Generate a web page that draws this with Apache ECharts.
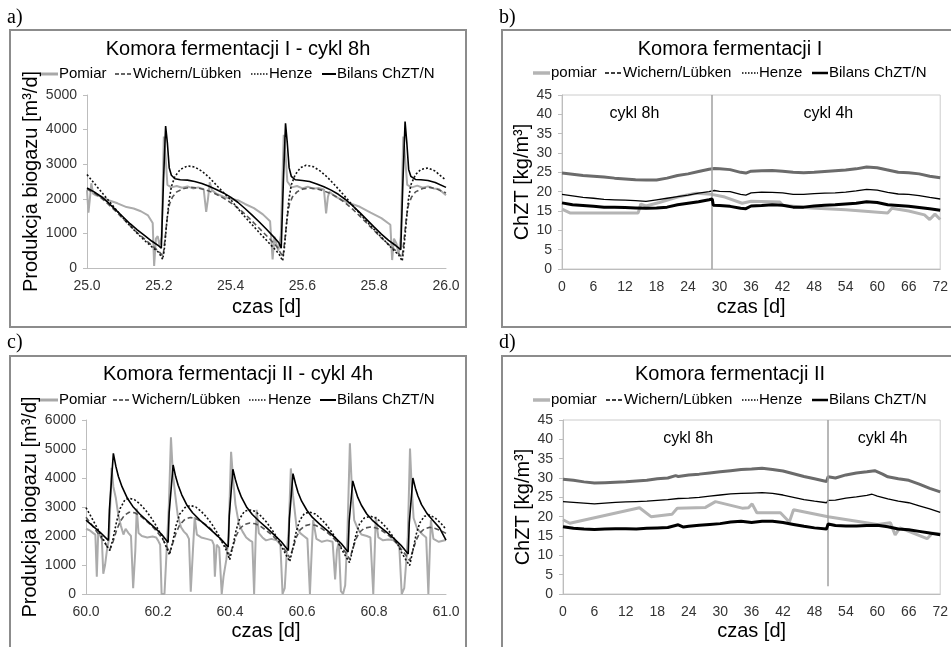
<!DOCTYPE html>
<html><head><meta charset="utf-8">
<script src="https://cdn.jsdelivr.net/npm/echarts/dist/echarts.min.js"></script>
<style>html,body{margin:0;padding:0;background:#fff}#c{width:951px;height:647px}</style>
</head><body><div id="c"></div><script>
// ---------- Panel a: Komora fermentacji I - cykl 8h ----------
const aPomiar = [[25.0,2250],[25.004,1600],[25.008,2000],[25.012,2450],[25.017,2150],[25.025,2100],[25.04,2060],[25.06,1960],[25.085,1870],[25.11,1760],[25.13,1720],[25.15,1640],[25.17,1520],[25.183,1300],[25.187,60],[25.192,850],[25.197,920],[25.202,650],[25.208,900],[25.214,3800],[25.219,3200],[25.224,2400],[25.235,2330],[25.25,2370],[25.265,2320],[25.28,2360],[25.295,2300],[25.31,2330],[25.325,2280],[25.332,1620],[25.337,2000],[25.342,2480],[25.348,2250],[25.36,2150],[25.38,2060],[25.40,2000],[25.42,1960],[25.44,1850],[25.465,1730],[25.49,1550],[25.51,1350],[25.517,250],[25.522,900],[25.527,850],[25.533,500],[25.54,950],[25.548,3850],[25.553,3300],[25.558,2500],[25.57,2330],[25.585,2370],[25.60,2300],[25.615,2350],[25.63,2290],[25.645,2310],[25.66,2270],[25.666,1580],[25.671,2050],[25.675,2200],[25.69,2080],[25.71,1960],[25.73,1880],[25.76,1770],[25.79,1600],[25.82,1440],[25.845,1250],[25.85,230],[25.855,850],[25.862,710],[25.868,400],[25.874,900],[25.881,3800],[25.886,3200],[25.892,2400],[25.905,2330],[25.92,2380],[25.935,2320],[25.95,2360],[25.965,2300],[25.98,2280],[26.0,2100]];
const aWichern = [[25.0,2280],[25.02,2170],[25.04,2020],[25.06,1840],[25.08,1640],[25.10,1430],[25.12,1220],[25.14,1020],[25.16,840],[25.18,660],[25.20,480],[25.212,340],[25.218,900],[25.224,1500],[25.23,1850],[25.238,2050],[25.25,2200],[25.27,2300],[25.29,2330],[25.31,2310],[25.33,2260],[25.35,2180],[25.37,2080],[25.39,1960],[25.41,1820],[25.43,1650],[25.45,1460],[25.47,1250],[25.49,1040],[25.51,830],[25.53,600],[25.546,320],[25.552,900],[25.558,1500],[25.564,1850],[25.572,2050],[25.585,2200],[25.60,2280],[25.62,2310],[25.64,2290],[25.66,2230],[25.68,2140],[25.70,2030],[25.72,1880],[25.74,1700],[25.76,1500],[25.78,1290],[25.80,1080],[25.82,870],[25.84,680],[25.86,500],[25.878,310],[25.884,900],[25.89,1500],[25.896,1850],[25.904,2050],[25.915,2200],[25.935,2300],[25.955,2330],[25.975,2280],[26.0,2170]];
const aHenze = [[25.0,2700],[25.02,2450],[25.04,2200],[25.06,1950],[25.08,1700],[25.10,1450],[25.12,1220],[25.14,1000],[25.16,800],[25.18,620],[25.20,450],[25.211,250],[25.216,600],[25.222,1300],[25.228,1900],[25.235,2350],[25.245,2650],[25.26,2850],[25.28,2950],[25.30,2920],[25.32,2800],[25.34,2620],[25.36,2400],[25.38,2180],[25.40,1980],[25.42,1720],[25.44,1480],[25.46,1250],[25.48,1020],[25.50,800],[25.52,580],[25.535,400],[25.545,210],[25.55,600],[25.556,1300],[25.562,1950],[25.569,2400],[25.58,2700],[25.595,2900],[25.61,2970],[25.63,2930],[25.65,2800],[25.67,2620],[25.69,2400],[25.71,2170],[25.73,1930],[25.75,1690],[25.77,1450],[25.79,1220],[25.81,1000],[25.83,780],[25.85,560],[25.868,380],[25.878,200],[25.883,600],[25.889,1300],[25.895,1950],[25.902,2400],[25.915,2700],[25.93,2850],[25.95,2890],[25.97,2800],[25.99,2620],[26.0,2540]];
const aBilans = [[25.0,2310],[25.02,2200],[25.04,2060],[25.06,1880],[25.08,1680],[25.10,1480],[25.12,1280],[25.14,1100],[25.16,940],[25.18,780],[25.20,640],[25.207,570],[25.213,2500],[25.219,4100],[25.224,3600],[25.229,2900],[25.235,2680],[25.245,2580],[25.26,2550],[25.28,2540],[25.30,2500],[25.32,2440],[25.34,2360],[25.36,2270],[25.38,2170],[25.40,2050],[25.42,1900],[25.44,1720],[25.46,1530],[25.48,1330],[25.50,1120],[25.52,900],[25.535,720],[25.541,570],[25.547,2500],[25.553,4180],[25.558,3600],[25.563,2900],[25.569,2650],[25.58,2550],[25.60,2530],[25.62,2500],[25.64,2430],[25.66,2350],[25.68,2250],[25.70,2130],[25.72,1980],[25.74,1800],[25.76,1600],[25.78,1390],[25.80,1180],[25.82,980],[25.84,800],[25.86,650],[25.874,530],[25.88,2500],[25.886,4230],[25.891,3600],[25.896,2850],[25.902,2650],[25.915,2560],[25.93,2550],[25.95,2530],[25.97,2470],[26.0,2330]];

// ---------- Panel c: Komora fermentacji II - cykl 4h ----------
const cPomiar = [[60.0,2250],[60.01,2200],[60.02,2100],[60.026,2050],[60.03,600],[60.034,2150],[60.04,2000],[60.044,1900],[60.048,700],[60.053,1000],[60.058,1500],[60.064,1900],[60.071,4350],[60.076,3700],[60.083,3300],[60.09,2700],[60.097,2350],[60.104,2050],[60.11,2250],[60.118,2100],[60.125,2000],[60.131,200],[60.137,1500],[60.141,2950],[60.146,2100],[60.155,2000],[60.17,1950],[60.185,1980],[60.195,1950],[60.2,1850],[60.206,1700],[60.21,0],[60.218,0],[60.224,1500],[60.23,3000],[60.236,5400],[60.241,4200],[60.247,3500],[60.255,2700],[60.264,2300],[60.272,2150],[60.28,2050],[60.286,1900],[60.291,80],[60.297,1500],[60.302,2650],[60.308,2050],[60.32,1950],[60.335,1900],[60.35,1850],[60.355,1700],[60.358,600],[60.363,1700],[60.37,1600],[60.377,0],[60.382,600],[60.39,1200],[60.396,2000],[60.403,4900],[60.409,3900],[60.415,3100],[60.425,2400],[60.435,2150],[60.445,1950],[60.455,1850],[60.462,1800],[60.467,0],[60.471,1800],[60.474,2900],[60.48,2100],[60.49,1950],[60.5,1850],[60.515,1900],[60.53,1850],[60.54,1700],[60.546,0],[60.552,200],[60.558,1500],[60.563,2200],[60.569,4330],[60.575,3400],[60.585,2300],[60.595,2100],[60.605,2000],[60.615,1900],[60.622,0],[60.627,1500],[60.631,2550],[60.64,1900],[60.655,1800],[60.67,1850],[60.685,1800],[60.692,500],[60.697,1500],[60.702,1800],[60.708,100],[60.714,0],[60.72,300],[60.726,2000],[60.733,5200],[60.738,3800],[60.745,2550],[60.755,2250],[60.765,2050],[60.78,2000],[60.79,1950],[60.798,0],[60.802,1500],[60.805,2670],[60.812,1950],[60.825,1850],[60.84,1880],[60.855,1850],[60.87,1700],[60.877,0],[60.884,200],[60.89,1200],[60.894,2000],[60.9,5020],[60.905,3600],[60.91,2620],[60.92,2250],[60.935,2050],[60.945,1950],[60.951,0],[60.955,1500],[60.958,2550],[60.965,1900],[60.98,1800],[61.0,1860]];
const cWichern = [[60.0,2650],[60.015,2400],[60.03,2150],[60.045,1900],[60.058,1650],[60.066,1520],[60.075,1800],[60.085,2200],[60.095,2500],[60.107,2720],[60.12,2820],[60.135,2800],[60.15,2700],[60.165,2550],[60.18,2380],[60.195,2180],[60.21,1950],[60.222,1700],[60.232,1420],[60.241,1750],[60.25,2100],[60.26,2380],[60.275,2580],[60.29,2640],[60.305,2600],[60.32,2500],[60.335,2370],[60.35,2200],[60.365,2000],[60.38,1780],[60.392,1550],[60.399,1320],[60.408,1650],[60.417,2000],[60.427,2250],[60.44,2400],[60.455,2450],[60.47,2420],[60.485,2330],[60.5,2200],[60.515,2050],[60.53,1870],[60.545,1650],[60.558,1420],[60.566,1250],[60.575,1580],[60.584,1950],[60.594,2200],[60.607,2350],[60.622,2400],[60.637,2370],[60.652,2280],[60.667,2150],[60.682,2000],[60.697,1800],[60.712,1580],[60.724,1380],[60.732,1200],[60.741,1550],[60.75,1900],[60.76,2130],[60.773,2270],[60.79,2310],[60.805,2280],[60.82,2200],[60.835,2080],[60.85,1920],[60.865,1720],[60.878,1500],[60.89,1320],[60.899,1150],[60.908,1500],[60.917,1850],[60.927,2100],[60.94,2250],[60.955,2300],[60.97,2260],[60.985,2190],[61.0,2090]];
const cHenze = [[60.0,2980],[60.015,2650],[60.03,2300],[60.045,1950],[60.058,1650],[60.066,1500],[60.075,1900],[60.085,2500],[60.095,2950],[60.108,3250],[60.12,3300],[60.135,3250],[60.15,3100],[60.165,2900],[60.18,2650],[60.195,2350],[60.21,2000],[60.222,1650],[60.232,1350],[60.241,1800],[60.25,2350],[60.26,2750],[60.275,2980],[60.29,3050],[60.305,3000],[60.32,2850],[60.335,2650],[60.35,2400],[60.365,2100],[60.38,1750],[60.392,1450],[60.399,1180],[60.408,1650],[60.417,2200],[60.427,2600],[60.44,2850],[60.455,2900],[60.47,2850],[60.485,2700],[60.5,2500],[60.515,2250],[60.53,1950],[60.545,1600],[60.558,1300],[60.566,1120],[60.575,1600],[60.584,2150],[60.594,2550],[60.607,2780],[60.622,2820],[60.637,2760],[60.652,2600],[60.667,2400],[60.682,2150],[60.697,1850],[60.712,1500],[60.724,1250],[60.732,1080],[60.741,1550],[60.75,2050],[60.76,2420],[60.773,2620],[60.79,2680],[60.805,2620],[60.82,2480],[60.835,2280],[60.85,2030],[60.865,1730],[60.878,1400],[60.89,1150],[60.899,980],[60.908,1500],[60.917,2050],[60.927,2450],[60.94,2680],[60.955,2720],[60.97,2620],[60.985,2450],[61.0,2230]];
const cBilans = [[60.0,2550],[60.02,2330],[60.04,2120],[60.062,1850],[60.065,2900],[60.076,4850],[60.083,4400],[60.09,4050],[60.1,3700],[60.115,3300],[60.13,3020],[60.15,2750],[60.17,2520],[60.19,2300],[60.21,2060],[60.228,1780],[60.231,2800],[60.242,4450],[60.249,4050],[60.256,3750],[60.266,3420],[60.281,3050],[60.296,2800],[60.316,2550],[60.336,2330],[60.356,2110],[60.376,1880],[60.395,1620],[60.398,2700],[60.408,4300],[60.415,3950],[60.422,3650],[60.432,3330],[60.447,2980],[60.462,2740],[60.482,2500],[60.502,2280],[60.522,2050],[60.542,1810],[60.562,1500],[60.565,2600],[60.575,4150],[60.582,3800],[60.589,3500],[60.599,3200],[60.614,2880],[60.629,2640],[60.649,2410],[60.669,2200],[60.689,1980],[60.709,1740],[60.728,1450],[60.731,2500],[60.741,3900],[60.748,3600],[60.755,3330],[60.765,3060],[60.78,2760],[60.795,2550],[60.815,2330],[60.835,2130],[60.855,1920],[60.875,1680],[60.895,1380],[60.898,2450],[60.908,4000],[60.915,3650],[60.922,3380],[60.932,3080],[60.947,2780],[60.962,2560],[60.982,2280],[61.0,1860]];

// ---------- Panel b: Komora fermentacji I (ChZT) ----------
const bPomiar = [[0,15.5],[1.5,14.5],[6,14.5],[14.5,14.5],[15,16.8],[16,16.3],[18.5,17.2],[22,18.6],[25.5,19.6],[28.5,19.3],[31,18.6],[34.3,17.0],[36,17.5],[41.5,17.3],[42,16.5],[47.5,15.8],[54,15.3],[62,14.5],[62.8,15.7],[66,15.0],[69,14.0],[70,12.8],[71,14.2],[72,12.8]];
const bWichern = [[0,19.3],[2,18.9],[4,18.5],[6,18.3],[8,18.0],[10,17.9],[12,17.8],[14,17.7],[16,17.5],[18,17.9],[20,18.3],[22,18.7],[24,19.1],[26,19.6],[28,20.0],[29,20.3],[30,20.1],[32,20.0],[34,19.3],[35,19.1],[36,19.7],[38,19.9],[40,19.8],[42,19.7],[44,19.3],[46,19.3],[48,19.5],[50,19.6],[52,19.7],[54,19.9],[56,20.2],[58,20.6],[60,20.4],[62,19.8],[64,19.4],[66,19.3],[68,19.0],[70,18.5],[72,18.1]];
const bHenze = [[0,24.8],[2,24.5],[4,24.2],[6,24.0],[8,23.8],[10,23.5],[12,23.3],[14,23.1],[16,23.0],[18,23.0],[20,23.5],[22,24.2],[24,24.6],[26,25.2],[28,25.8],[29,26.0],[30,25.9],[32,25.7],[34,25.0],[35,24.8],[36,25.3],[38,25.4],[40,25.5],[42,25.3],[44,25.0],[46,24.9],[48,25.0],[50,25.2],[52,25.4],[54,25.6],[56,25.9],[58,26.4],[60,26.2],[62,25.6],[64,25.0],[66,24.9],[68,24.6],[70,24.0],[72,23.6]];
const bBilans = [[0,17.1],[2,16.6],[4,16.4],[6,16.2],[8,16.0],[10,16.0],[12,15.9],[14,15.8],[16,15.7],[18,15.8],[20,16.0],[22,16.6],[24,17.0],[26,17.4],[28,17.9],[28.6,18.1],[28.8,16.5],[30,16.4],[32,16.2],[34,15.7],[35,15.6],[36,16.3],[38,16.4],[40,16.6],[42,16.5],[44,16.0],[46,16.0],[48,16.3],[50,16.5],[52,16.6],[54,16.8],[56,17.0],[58,17.4],[60,17.2],[62,16.6],[64,16.4],[66,16.2],[68,15.9],[70,15.6],[72,15.2]];

// ---------- Panel d: Komora fermentacji II (ChZT) ----------
const dPomiar = [[0,19.2],[1.3,18.3],[14.6,22.3],[16.8,20.0],[20.8,20.6],[21.8,22.2],[27.2,22.4],[29.1,23.9],[34.2,22.2],[35.4,22.3],[36.1,23.3],[37,21.0],[41.5,21.0],[43.2,18.6],[44,21.8],[50.6,20.0],[60,18.0],[62.5,18.4],[63.4,15.3],[64.3,17.1],[69.5,14.3],[70.5,15.7],[72,15.6]];
const dWichern = [[0,23.9],[2,23.7],[4,23.5],[6,23.3],[8,23.5],[10,23.7],[12,23.8],[14,23.9],[16,24.0],[18,24.2],[20,24.4],[22,24.7],[24,24.8],[26,25.0],[28,25.3],[30,25.6],[32,25.9],[34,26.0],[36,26.1],[38,26.2],[40,26.0],[42,25.6],[44,25.0],[46,24.4],[48,24.0],[50.3,23.6],[50.6,24.2],[52,24.3],[54,24.8],[56,25.1],[58,25.5],[59,25.8],[60,25.3],[62,24.6],[64,24.0],[66,23.6],[68,22.8],[70,22.0],[72,21.1]];
const dHenze = [[0,29.7],[2,29.4],[4,29.0],[6,28.7],[8,28.8],[10,28.9],[12,29.0],[14,29.2],[16,29.4],[18,29.8],[20,30.0],[21.5,30.6],[22,30.4],[24,30.8],[26,31.0],[28,31.3],[30,31.6],[32,31.9],[34,32.2],[36,32.3],[38,32.5],[40,32.2],[42,31.8],[44,31.1],[46,30.4],[48,29.8],[50.3,29.1],[50.6,30.3],[52,30.0],[54,30.8],[56,31.3],[58,31.6],[59.5,31.9],[61,31.0],[62,30.3],[64,29.8],[66,29.4],[68,28.4],[70,27.3],[72,26.4]];
const dBilans = [[0,17.4],[2,17.0],[4,16.8],[6,16.7],[8,16.8],[10,16.9],[12,16.9],[14,16.8],[16,17.0],[18,17.1],[20,17.2],[22,17.9],[23,17.3],[24,17.5],[26,17.8],[28,18.0],[30,18.2],[32,18.6],[34,18.8],[36,18.5],[38,18.8],[40,18.8],[42,18.5],[44,18.0],[46,17.5],[48,17.1],[50.3,16.8],[50.6,18.1],[52,17.7],[54,17.6],[56,17.6],[58,17.7],[60,17.8],[62,17.4],[64,16.8],[66,16.6],[68,16.2],[70,15.8],[72,15.3]];

// labels / ticks
const titles = ['Komora fermentacji I - cykl 8h','Komora fermentacji I','Komora fermentacji II - cykl 4h','Komora fermentacji II'];
const namesQ = ['Pomiar','Wichern/Lübken','Henze','Bilans ChZT/N'];
const namesC = ['pomiar','Wichern/Lübken','Henze','Bilans ChZT/N'];
const cycleLabels = ['cykl 8h','cykl 4h'];
const bDivider = 28.5, dDivider = 50.5;

const FONT = '"Liberation Sans", Arial, sans-serif';
const chart = echarts.init(document.getElementById('c'), null, {renderer:'canvas'});

const stQ = [
  {color:'#ababab', width:2, type:'solid'},
  {color:'#555555', width:1.6, type:[5,3]},
  {color:'#111111', width:1.6, type:[2,2]},
  {color:'#000000', width:1.6, type:'solid'}
];
const stC = [
  {color:'#b4b4b4', width:3, type:'solid'},
  {color:'#000000', width:1.3, type:'solid'},
  {color:'#6b6b6b', width:3, type:'solid'},
  {color:'#000000', width:3, type:'solid'}
];
// legend key styles
const legStQ = [
  {stroke:'#a8a8a8', lineWidth:3, lineDash:null},
  {stroke:'#333333', lineWidth:1.3, lineDash:[4,2]},
  {stroke:'#111111', lineWidth:1.3, lineDash:[1.5,1.5]},
  {stroke:'#000000', lineWidth:2, lineDash:null}
];
const legStC = [
  {stroke:'#b4b4b4', lineWidth:3.5, lineDash:null},
  {stroke:'#000000', lineWidth:1.3, lineDash:[4,2]},
  {stroke:'#000000', lineWidth:1.3, lineDash:[1.5,1.5]},
  {stroke:'#000000', lineWidth:2.5, lineDash:null}
];
// legend layout: [y, [[iconStart, iconEnd], ...]]
const legendLayout = [
  [74, [[40,58],[115,132],[251,268],[322,336]]],
  [73, [[533,550],[605,622],[742,758],[812,828]]],
  [400,[[40,58],[113,131],[249,267],[320,336]]],
  [400,[[533,550],[606,623],[742,758],[812,828]]]
];

function mkSeries(name, data, idx, ls, z){
  return {type:'line', name, data, xAxisIndex:idx, yAxisIndex:idx, showSymbol:false, symbol:'none',
    lineStyle:ls, itemStyle:{color:ls.color}, z:z, silent:true, animation:false};
}
const series = [];
[[aPomiar,aWichern,aHenze,aBilans],[bPomiar,bWichern,bHenze,bBilans],[cPomiar,cWichern,cHenze,cBilans],[dPomiar,dWichern,dHenze,dBilans]].forEach((arr,p)=>{
  const conc = (p===1||p===3);
  arr.forEach((d,i)=>{
    series.push(mkSeries((conc?namesC:namesQ)[i], d, p, (conc?stC:stQ)[i], 2+i));
  });
});
function addMarks(seriesIdx, div, yBottom, x8, x4){
  series[seriesIdx].markLine = {silent:true, symbol:'none', animation:false, label:{show:false},
    lineStyle:{color:'#a0a0a0', width:1.5, type:'solid'},
    data:[[{coord:[div,yBottom]},{coord:[div,45]}]]};
  series[seriesIdx].markPoint = {silent:true, symbol:'circle', symbolSize:0, animation:false,
    label:{show:true, position:'inside', color:'#000', fontSize:16, fontFamily:FONT, formatter:p=>p.name},
    data:[{name:cycleLabels[0], coord:[x8,40.3]},{name:cycleLabels[1], coord:[x4,40.3]}]};
}
addMarks(4, bDivider, 0, 13.8, 50.7);
addMarks(12, dDivider, 2, 23.9, 61);

const grids = [
  {left:87, top:95, width:359, height:173, show:false},
  {left:562, top:95, width:381, height:174, show:true, borderColor:'#cccccc', borderWidth:1},
  {left:86, top:420, width:360, height:174, show:false},
  {left:563, top:420, width:380, height:174, show:true, borderColor:'#cccccc', borderWidth:1}
];
function xAx(i,min,max,interval,fmt,gap){
  return {gridIndex:i, type:'value', min, max, interval, name:'czas [d]', nameLocation:'middle', nameGap:gap,
    nameTextStyle:{fontSize:20, color:'#000', fontFamily:FONT},
    axisLine:{show:true, onZero:false, lineStyle:{color:'#bdbdbd', width:1}}, axisTick:{show:false},
    axisLabel:{fontSize:14, color:'#333', fontFamily:FONT, margin:11, formatter:fmt, showMaxLabel:true, showMinLabel:true},
    splitLine:{show:false}};
}
function yAx(i,max,interval,name,gap,fs){
  return {gridIndex:i, type:'value', min:0, max, interval, name, nameLocation:'middle', nameGap:gap,
    nameTextStyle:{fontSize:fs, color:'#000', fontFamily:FONT},
    axisLine:{show:true, lineStyle:{color:'#bdbdbd', width:1}}, axisTick:{show:true, length:4, lineStyle:{color:'#bdbdbd'}},
    axisLabel:{fontSize:14, color:'#333', fontFamily:FONT, margin:10, formatter:v=>String(Math.round(v))}, splitLine:{show:false}};
}
const f1 = v=>v.toFixed(1);
const f0 = v=>String(Math.round(v));
const xAxis = [xAx(0,25,26,0.2,f1,29), xAx(1,0,72,6,f0,28), xAx(2,60,61,0.2,f1,27), xAx(3,0,72,6,f0,27)];
const yAxis = [yAx(0,5000,1000,'Produkcja biogazu [m³/d]',45,20), yAx(1,45,5,'ChZT [kg/m³]',29,20),
               yAx(2,6000,1000,'Produkcja biogazu [m³/d]',44,20), yAx(3,45,5,'ChZT [kg/m³]',30,20)];

const titleOpt = [[238,39],[730,39],[238,364],[730,364]].map((p,i)=>({text:titles[i], left:p[0], top:p[1], textAlign:'center', padding:0,
  textStyle:{fontSize:20, fontWeight:'normal', color:'#000', fontFamily:FONT}}));

const border = {fill:'none', stroke:'#8c8c8c', lineWidth:2};
const graphic = [
  {type:'rect', silent:true, shape:{x:10,y:30,width:456,height:297}, style:border},
  {type:'rect', silent:true, shape:{x:502,y:30,width:470,height:297}, style:border},
  {type:'rect', silent:true, shape:{x:10,y:356,width:456,height:310}, style:border},
  {type:'rect', silent:true, shape:{x:502,y:356,width:470,height:310}, style:border},
  {type:'text', silent:true, left:7, top:8, style:{text:'a)', font:'20px "Liberation Serif", serif', fill:'#000'}},
  {type:'text', silent:true, left:499, top:8, style:{text:'b)', font:'20px "Liberation Serif", serif', fill:'#000'}},
  {type:'text', silent:true, left:7, top:333, style:{text:'c)', font:'20px "Liberation Serif", serif', fill:'#000'}},
  {type:'text', silent:true, left:499, top:333, style:{text:'d)', font:'20px "Liberation Serif", serif', fill:'#000'}}
];
// legends (key line + text) for each panel
legendLayout.forEach((lay,p)=>{
  const conc = (p===1||p===3);
  const names = conc?namesC:namesQ, sts = conc?legStC:legStQ;
  const y = lay[0];
  lay[1].forEach((ic,i)=>{
    graphic.push({type:'line', silent:true, shape:{x1:ic[0], y1:y, x2:ic[1], y2:y},
      style:{stroke:sts[i].stroke, lineWidth:sts[i].lineWidth, lineDash:sts[i].lineDash}});
    graphic.push({type:'text', silent:true, x:ic[1]+1, y:y,
      style:{text:names[i], font:'15px "Liberation Sans", Arial, sans-serif', fill:'#000', align:'left', verticalAlign:'middle'}});
  });
});

chart.setOption({animation:false, backgroundColor:'#fff', title:titleOpt, grid:grids, xAxis, yAxis, series, graphic});
</script></body></html>
